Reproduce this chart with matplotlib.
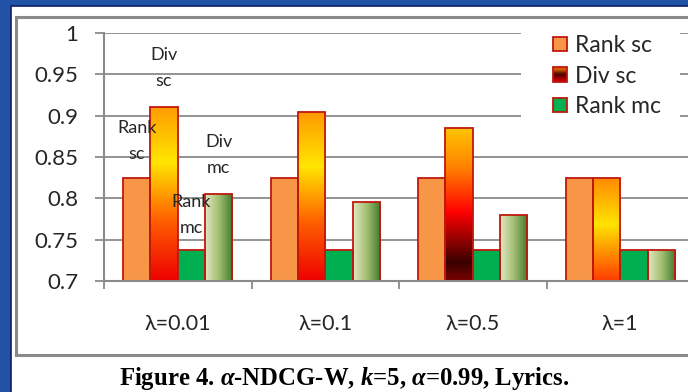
import numpy as np
import matplotlib
matplotlib.use("Agg")
import matplotlib.pyplot as plt
from matplotlib.patches import Rectangle, Patch
from matplotlib.colors import LinearSegmentedColormap
from matplotlib.legend_handler import HandlerBase

# ---------------- data ----------------
categories = ["λ=0.01", "λ=0.1", "λ=0.5", "λ=1"]
series_names = ["Rank sc", "Div sc", "Rank mc", "Div mc"]
rank_sc = [0.824, 0.824, 0.824, 0.824]
div_sc = [0.911, 0.904, 0.885, 0.824]
rank_mc = [0.737, 0.737, 0.737, 0.737]
div_mc = [0.805, 0.796, 0.780, 0.737]
yticks = [0.7, 0.75, 0.8, 0.85, 0.9, 0.95, 1.0]
ytick_labels = ["0.7", "0.75", "0.8", "0.85", "0.9", "0.95", "1"]
legend_names = ["Rank sc", "Div sc", "Rank mc"]
caption = r"Figure 4. $\alpha$-NDCG-W, $k$=5, $\alpha$=0.99, Lyrics."

# ---------------- style ----------------
W, H = 688, 392
plt.rcParams['font.family'] = ['Lato', 'DejaVu Sans']
plt.rcParams['mathtext.fontset'] = 'custom'
plt.rcParams['mathtext.rm'] = 'Liberation Serif:bold'
plt.rcParams['mathtext.it'] = 'Liberation Serif:italic:bold'
plt.rcParams['mathtext.bf'] = 'Liberation Serif:bold'

BLUE = '#2152A6'
NAVY = '#0B1F6A'
GRID = '#8A8A8A'
EDGE = '#C0180C'
RANK_SC = '#F79646'
RANK_MC = '#00B050'
TXT = '#262626'

div_sc_grads = [
    [(0.0, '#EE0000'), (0.35, '#FF6000'), (0.68, '#FFE600'), (1.0, '#FF9A00')],
    [(0.0, '#EE0000'), (0.35, '#FF6000'), (0.68, '#FFE600'), (1.0, '#FF9A00')],
    [(0.0, '#7A0000'), (0.12, '#3A0000'), (0.45, '#FF0000'), (0.75, '#FF8400'), (1.0, '#FFC400')],
    [(0.0, '#FF3A00'), (0.55, '#FFE400'), (1.0, '#FF8A00')],
]
div_mc_grad = [(0.0, '#E2E8C4'), (0.5, '#A3BE70'), (1.0, '#3C7A2E')]


def fx(x):
    return x / W


def fy(y):
    return 1 - y / H


fig = plt.figure(figsize=(W / 100, H / 100), dpi=100, facecolor=BLUE)

# white slide panel
fig.patches.append(Rectangle((fx(11), -0.1), 1.2, fy(6) + 0.1, transform=fig.transFigure,
                             facecolor='white', edgecolor=NAVY, lw=1.2, zorder=-3))
# chart frame
fig.patches.append(Rectangle((fx(16), fy(355)), 1.2, fy(17) - fy(355), transform=fig.transFigure,
                             facecolor='white', edgecolor='#8A8A8A', lw=2.2, zorder=-2))

ax = fig.add_axes([fx(104), fy(281), 590 / W, 248 / H])
ax.set_facecolor('none')

n = len(categories)
x = np.arange(n)
bw = 0.185
offsets = [-1.5 * bw, -0.5 * bw, 0.5 * bw, 1.5 * bw]
base = 0.7


def grad_fill(bar, stops, horizontal=False):
    x0, y0 = bar.get_x(), bar.get_y()
    w, h = bar.get_width(), bar.get_height()
    cmap = LinearSegmentedColormap.from_list('g', stops)
    if horizontal:
        arr = np.linspace(0, 1, 256).reshape(1, -1)
    else:
        arr = np.linspace(0, 1, 256).reshape(-1, 1)
    im = ax.imshow(arr, cmap=cmap, extent=[x0, x0 + w, y0, y0 + h], origin='lower',
                   aspect='auto', zorder=1.9, interpolation='bilinear')
    im.set_clip_path(bar)
    bar.set_facecolor('none')


bars_rsc = ax.bar(x + offsets[0], np.array(rank_sc) - base, bw, bottom=base,
                  color=RANK_SC, edgecolor=EDGE, lw=1.3, zorder=2)
bars_dsc = ax.bar(x + offsets[1], np.array(div_sc) - base, bw, bottom=base,
                  color='none', edgecolor=EDGE, lw=1.3, zorder=2)
bars_rmc = ax.bar(x + offsets[2], np.array(rank_mc) - base, bw, bottom=base,
                  color=RANK_MC, edgecolor=EDGE, lw=1.3, zorder=2)
bars_dmc = ax.bar(x + offsets[3], np.array(div_mc) - base, bw, bottom=base,
                  color='none', edgecolor=EDGE, lw=1.3, zorder=2)
for b, st in zip(bars_dsc, div_sc_grads):
    grad_fill(b, st)
for b in bars_dmc:
    grad_fill(b, div_mc_grad, horizontal=True)

ax.set_xlim(-0.5, n - 0.5)
ax.set_ylim(0.7, 1.0)

# axes styling
for s in ['top', 'right']:
    ax.spines[s].set_visible(False)
for s in ['left', 'bottom']:
    ax.spines[s].set_color(GRID)
    ax.spines[s].set_linewidth(1.5)
ax.set_yticks(yticks)
ax.set_yticklabels(ytick_labels)
ax.tick_params(axis='y', length=6.5, width=1.3, color=GRID, pad=12, labelsize=16, labelcolor=TXT)
ax.set_xticks(np.arange(n) - 0.5)
ax.set_xticklabels([])
ax.set_xticks(x, minor=True)
ax.set_xticklabels(categories, minor=True)
ax.tick_params(axis='x', which='major', length=6, width=1.3, color=GRID)
ax.tick_params(axis='x', which='minor', length=0, pad=24, labelsize=15.5, labelcolor=TXT)
ax.grid(axis='y', color=GRID, lw=1.3, zorder=0.5)
ax.set_axisbelow(True)

# in-chart series labels (first category)
lab_kw = dict(ha='center', va='center', fontsize=13, color=TXT, linespacing=1.75, zorder=5)
ax.text(x[0] + offsets[1], 0.958, "Div\nsc", **lab_kw)
ax.text(x[0] + offsets[0], 0.869, "Rank\nsc", **lab_kw)
ax.text(x[0] + offsets[3], 0.852, "Div\nmc", **lab_kw)
ax.text(x[0] + offsets[2], 0.780, "Rank\nmc", **lab_kw)

# legend background box
ax.add_patch(Rectangle((fx(521), fy(130)), fx(680) - fx(521), fy(22) - fy(130),
                       transform=fig.transFigure, facecolor='white', edgecolor='none',
                       zorder=4, clip_on=False))


class GradHandler(HandlerBase):
    def __init__(self, stops, **kw):
        super().__init__(**kw)
        self.cmap = LinearSegmentedColormap.from_list('h', stops)

    def create_artists(self, legend, orig_handle, xdescent, ydescent, width, height, fontsize, trans):
        arts = []
        nstrip = 12
        for i in range(nstrip):
            c = self.cmap((i + 0.5) / nstrip)
            arts.append(Rectangle((-xdescent, -ydescent + height * i / nstrip), width, height / nstrip + 0.3,
                                  facecolor=c, edgecolor='none', transform=trans))
        arts.append(Rectangle((-xdescent, -ydescent), width, height, facecolor='none',
                              edgecolor=EDGE, lw=1.3, transform=trans))
        return arts


h1 = Patch(facecolor=RANK_SC, edgecolor=EDGE, lw=1.3)
h2 = Patch(facecolor='#C00000', edgecolor=EDGE, lw=1.3)
h3 = Patch(facecolor=RANK_MC, edgecolor=EDGE, lw=1.3)
leg = ax.legend([h1, h2, h3], legend_names, loc='upper left',
                bbox_to_anchor=(fx(553), fy(35)), bbox_transform=fig.transFigure,
                frameon=False, borderpad=0, borderaxespad=0, fontsize=16.5,
                handlelength=0.6, handleheight=0.6, handletextpad=0.35, labelspacing=0.42,
                handler_map={h2: GradHandler([(0, '#E00000'), (0.5, '#500000'), (1.0, '#FF7A00')])})
leg.set_zorder(6)
for t in leg.get_texts():
    t.set_color(TXT)

# caption
fig.text(0.5, fy(378), caption, ha='center', va='center', fontsize=17.8,
         family='Liberation Serif', fontweight='bold', color='black')

fig.savefig('out.png', dpi=100, facecolor=BLUE)
